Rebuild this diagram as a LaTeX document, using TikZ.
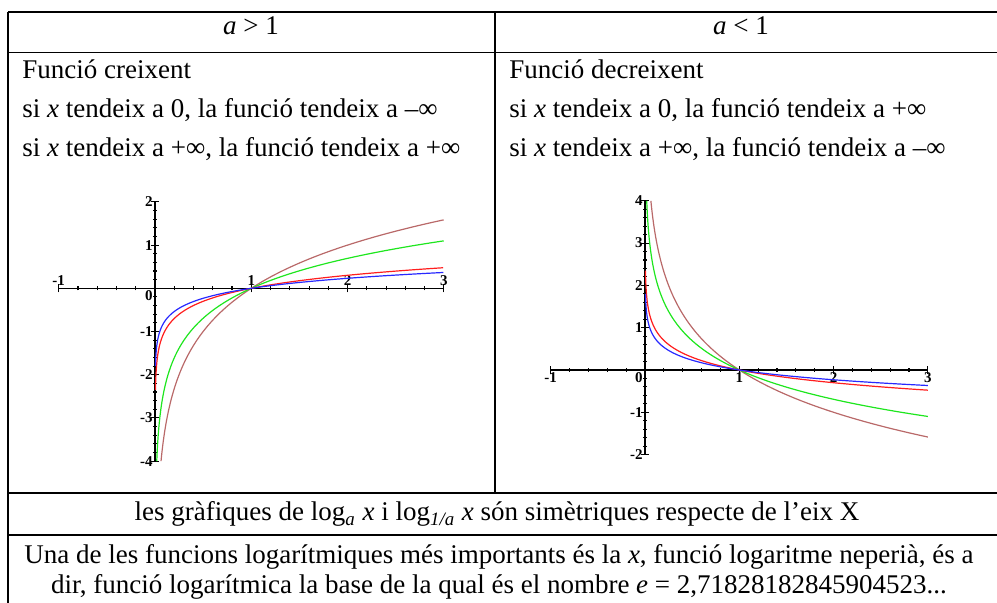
\documentclass[tikz,border=0pt]{standalone}
\usepackage{fontspec}
\setmainfont{Liberation Serif}
\definecolor{curveBlue}{RGB}{40,40,255}
\definecolor{curveRed}{RGB}{255,30,30}
\definecolor{curveGreen}{RGB}{30,230,30}
\definecolor{curveBrown}{RGB}{185,105,105}

\begin{document}
\begin{tikzpicture}
[x=0.5pt,y=-0.5pt,
  tableLine/.style={line width=0.8pt},
  cellText/.style={inner sep=0pt,anchor=base west,font=\fontsize{13.5}{16}\selectfont},
  centerText/.style={inner sep=0pt,anchor=base,font=\fontsize{13.5}{16}\selectfont},
  axisLine/.style={line width=0.55pt},
  tickLabel/.style={inner sep=1pt,font=\fontsize{7.5}{8}\selectfont\bfseries},
  curveDecorate/.style={line width=0.6pt,smooth,samples=90}]
\useasboundingbox (0,0) rectangle (997,603);
%% table rules
\draw[tableLine] (8,12) -- (997,12);
\draw[tableLine] (8,52.5) -- (997,52.5);
\draw[tableLine] (8,493) -- (997,493);
\draw[tableLine] (8,535) -- (997,535);
\draw[tableLine] (8,12) -- (8,603);
\draw[tableLine] (495,12) -- (495,493);
%% header and text cells
\node[centerText] (headGreat) at (251,35) {\textit{a} > 1};
\node[centerText] (headLess) at (741,35) {\textit{a} < 1};
\foreach \nodename/\x/\y/\txt in {
  growA/22/79/{Funció creixent},
  growB/22/118/{si \textit{x} tendeix a 0, la funció tendeix a –∞},
  growC/22/157/{si \textit{x} tendeix a +∞, la funció tendeix a +∞},
  fallA/509/79/{Funció decreixent},
  fallB/509/118/{si \textit{x} tendeix a 0, la funció tendeix a +∞},
  fallC/509/157/{si \textit{x} tendeix a +∞, la funció tendeix a –∞}}
{
  \node[cellText] (\nodename) at (\x,\y) {\txt};
}
\node[centerText] (symRow) at (497,521) {les gràfiques de log\textsubscript{\textit{a}} \textit{x} i log\textsubscript{\textit{1/a}} \textit{x} són simètriques respecte de l’eix X};
\node[centerText] (lnRowA) at (499,564) {Una de les funcions logarítmiques més importants és la \textit{x}, funció logaritme neperià, és a};
\node[centerText] (lnRowB) at (499,594) {dir, funció logarítmica la base de la qual és el nombre \textit{e} = 2,71828182845904523...};
%% left plot, a > 1
\coordinate (originL) at (155,288.3);
\begin{scope}[shift={(originL)},x=48.15pt,y=21.6pt]
  \draw[axisLine] (-1,0) -- (3,0);
  \draw[axisLine] (0,-4) -- (0,2);
  \foreach \t in {-1,-0.8,...,3.05}
    \draw[axisLine] (\t,0) +(0,-1pt) -- +(0,1pt);
  \foreach \t in {-4,-3.8,...,2.05}
    \draw[axisLine] (0,\t) +(-1pt,0) -- +(1pt,0);
  \foreach \t in {-1,1,2,3}
    \draw[axisLine] (\t,0) +(0,-2pt) -- +(0,2pt);
  \foreach \t in {-4,-3,-2,-1,1,2}
    \draw[axisLine] (0,\t) +(-2pt,0) -- +(2pt,0);
  \foreach \nodename/\t in {xmL/-1,xaL/1,xbL/2,xcL/3}
    \node[tickLabel,anchor=south] (\nodename) at (\t,0) {\t};
  \node[tickLabel,anchor=north east] (zeroL) at (0,0) {0};
  \foreach \nodename/\t in {ydL/-4,ycL/-3,ybL/-2,yaL/-1,ypL/1,yqL/2}
    \node[tickLabel,anchor=east] (\nodename) at (0,\t) {\t};
  \draw[curveDecorate,curveBrown] plot[domain=-4:1.585] ({exp(\x*ln(2))},\x);
  \draw[curveDecorate,curveGreen] plot[domain=-4:1.0986] ({exp(\x)},\x);
  \draw[curveDecorate,curveRed] plot[domain=-2.35:0.4771] ({exp(\x*ln(10))},\x);
  \draw[curveDecorate,curveBlue] plot[domain=-1.80:0.3667] ({exp(\x*ln(20))},\x);
\end{scope}
%% right plot, a < 1
\coordinate (originR) at (645,370);
\begin{scope}[shift={(originR)},x=47.15pt,y=21.15pt]
  \draw[axisLine] (-1,0) -- (3,0);
  \draw[axisLine] (0,-2) -- (0,4);
  \foreach \t in {-1,-0.8,...,3.05}
    \draw[axisLine] (\t,0) +(0,-1pt) -- +(0,1pt);
  \foreach \t in {-2,-1.8,...,4.05}
    \draw[axisLine] (0,\t) +(-1pt,0) -- +(1pt,0);
  \foreach \t in {-1,1,2,3}
    \draw[axisLine] (\t,0) +(0,-2pt) -- +(0,2pt);
  \foreach \t in {-2,-1,1,2,3,4}
    \draw[axisLine] (0,\t) +(-2pt,0) -- +(2pt,0);
  \foreach \nodename/\t in {xmR/-1,xaR/1,xbR/2,xcR/3}
    \node[tickLabel,anchor=north] (\nodename) at (\t,0) {\t};
  \node[tickLabel,anchor=north east] (zeroR) at (0,0) {0};
  \foreach \nodename/\t in {ybR/-2,yaR/-1,ypR/1,yqR/2,yrR/3,ysR/4}
    \node[tickLabel,anchor=east] (\nodename) at (0,\t) {\t};
  \draw[curveDecorate,curveBrown] plot[domain=-1.585:4] ({exp(-\x*ln(2))},\x);
  \draw[curveDecorate,curveGreen] plot[domain=-1.0986:4] ({exp(-\x)},\x);
  \draw[curveDecorate,curveRed] plot[domain=-0.4771:2.35] ({exp(-\x*ln(10))},\x);
  \draw[curveDecorate,curveBlue] plot[domain=-0.3667:1.80] ({exp(-\x*ln(20))},\x);
\end{scope}
\end{tikzpicture}
\end{document}
